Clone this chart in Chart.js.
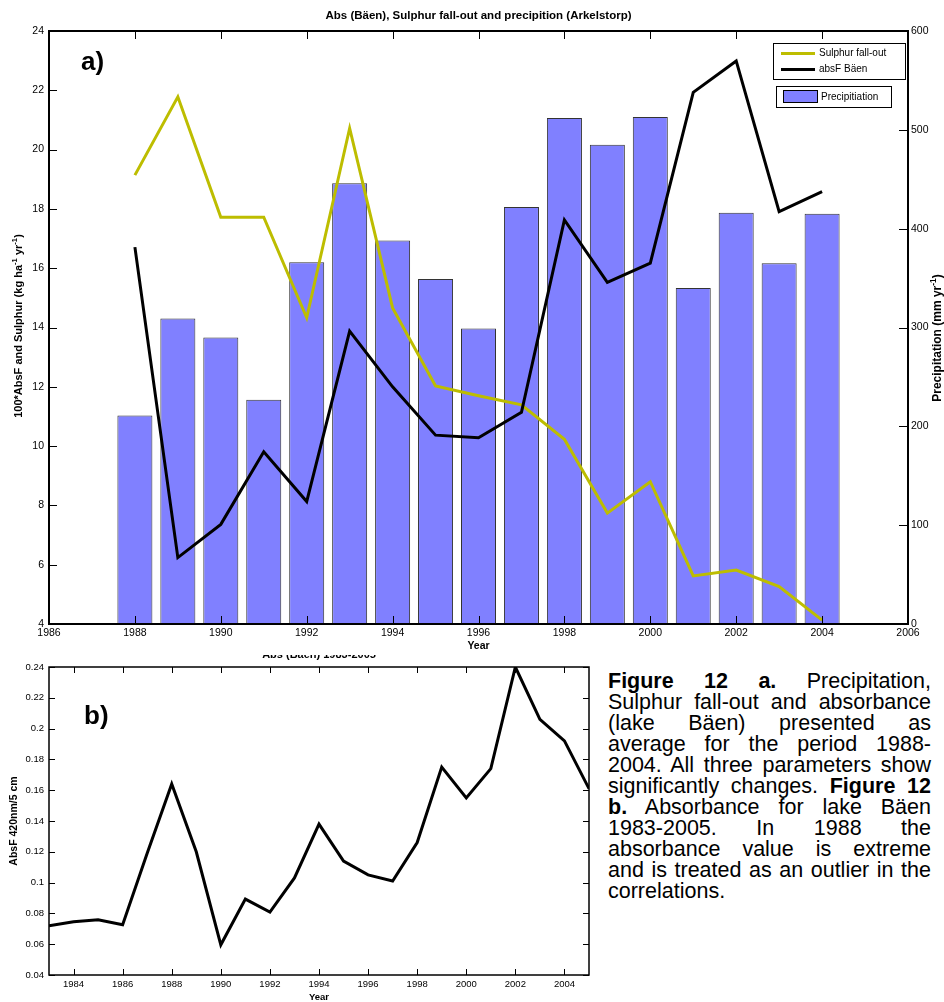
<!DOCTYPE html>
<html>
<head>
<meta charset="utf-8">
<script src="https://cdn.jsdelivr.net/npm/chart.js@4/dist/chart.umd.min.js"></script>
<style>
html,body{margin:0;padding:0;background:#fff;}
body{width:944px;height:1002px;position:relative;overflow:hidden;font-family:"Liberation Sans",Arial,Helvetica,sans-serif;}
#wrapA{position:absolute;left:0;top:0;width:944px;height:655px;z-index:2;background:#fff;}
#wrapB{position:absolute;left:0;top:640px;width:600px;height:362px;z-index:1;background:#fff;}
#caption{position:absolute;left:608px;top:671px;width:323px;font-size:21.5px;line-height:21px;color:#000;z-index:3;}
#caption .l{text-align:justify;text-align-last:justify;white-space:nowrap;}
#caption .last{text-align:left;text-align-last:left;}
</style>
</head>
<body>
<div id="wrapA"><canvas id="chartA" width="944" height="655"></canvas></div>
<div id="wrapB"><canvas id="chartB" width="600" height="362"></canvas></div>
<div id="caption">
<div class="l"><b>Figure 12 a.</b> Precipitation,</div>
<div class="l">Sulphur fall-out and absorbance</div>
<div class="l">(lake Bäen) presented as</div>
<div class="l">average for the period 1988-</div>
<div class="l">2004. All three parameters show</div>
<div class="l">significantly changes. <b>Figure 12</b></div>
<div class="l"><b>b.</b> Absorbance for lake Bäen</div>
<div class="l">1983-2005. In 1988 the</div>
<div class="l">absorbance value is extreme</div>
<div class="l">and is treated as an outlier in the</div>
<div class="l last">correlations.</div>
</div>
<script>
// ---------- DATA (top chart a) ----------
const years = [1988,1989,1990,1991,1992,1993,1994,1995,1996,1997,1998,1999,2000,2001,2002,2003,2004];
const precipitation = [211,309,290,227,366,446,388,349,299,422,512,485,513,340,416,365,415];
const sulphurFallout = [19.14,21.78,17.72,17.72,14.33,20.72,14.66,12.03,11.70,11.39,10.23,7.74,8.80,5.62,5.82,5.26,4.13];
const absFBaen = [16.71,6.24,7.36,9.81,8.13,13.88,12.00,10.37,10.28,11.14,17.63,15.52,16.17,21.93,22.99,17.91,18.58];
const topXTicks = [1986,1988,1990,1992,1994,1996,1998,2000,2002,2004,2006];
const topLeftTicks = [4,6,8,10,12,14,16,18,20,22,24];
const topRightTicks = [0,100,200,300,400,500,600];

// ---------- DATA (bottom chart b) ----------
const absYears = [1983,1984,1985,1986,1987,1988,1989,1990,1991,1992,1993,1994,1995,1996,1997,1998,1999,2000,2001,2002,2003,2004,2005];
const absorbance = [0.072,0.0746,0.0759,0.0726,0.119,0.164,0.120,0.0596,0.0893,0.0809,0.103,0.138,0.114,0.105,0.101,0.126,0.175,0.155,0.174,0.240,0.206,0.192,0.161];
const bottomXTicks = [1984,1986,1988,1990,1992,1994,1996,1998,2000,2002,2004];
const bottomYTicks = [0.04,0.06,0.08,0.10,0.12,0.14,0.16,0.18,0.20,0.22,0.24];

const FF = '"Liberation Sans", Arial, Helvetica, sans-serif';
Chart.defaults.font.family = FF;
Chart.defaults.color = '#000';

const YELLOW = '#BDBD00';
const BLUE = '#8080FF';

function drawRich(ctx, parts, x, y, rot, size, bold) {
  ctx.save();
  ctx.translate(x, y);
  ctx.rotate(rot);
  ctx.textAlign = 'left';
  ctx.textBaseline = 'alphabetic';
  let total = 0;
  parts.forEach(p => {
    const s = p.sup ? size * 0.7 : size;
    ctx.font = (bold ? 'bold ' : '') + s + 'px ' + FF;
    p.w = ctx.measureText(p.t).width;
    total += p.w;
  });
  let cx = -total / 2;
  parts.forEach(p => {
    const s = p.sup ? size * 0.7 : size;
    ctx.font = (bold ? 'bold ' : '') + s + 'px ' + FF;
    ctx.fillStyle = '#000';
    ctx.fillText(p.t, cx, p.sup ? size * 0.35 - size * 0.45 : size * 0.35);
    cx += p.w;
  });
  ctx.restore();
}

function setTicks(arr) {
  return function (scale) { scale.ticks = arr.map(v => ({ value: v })); };
}

const framePluginA = {
  id: 'frameA',
  afterDraw(chart) {
    const ctx = chart.ctx;
    const a = chart.chartArea;
    const sx = chart.scales.x, sy = chart.scales.y, sy2 = chart.scales.y2;
    ctx.save();
    ctx.strokeStyle = '#000';
    ctx.lineWidth = 1;
    ctx.beginPath();
    topXTicks.forEach(v => {
      const px = Math.round(sx.getPixelForValue(v)) + 0.5;
      ctx.moveTo(px, a.bottom); ctx.lineTo(px, a.bottom - 8);
      ctx.moveTo(px, a.top); ctx.lineTo(px, a.top + 8);
    });
    topLeftTicks.forEach(v => {
      const py = Math.round(sy.getPixelForValue(v)) + 0.5;
      ctx.moveTo(a.left, py); ctx.lineTo(a.left + 8, py);
    });
    topRightTicks.forEach(v => {
      const py = Math.round(sy2.getPixelForValue(v)) + 0.5;
      ctx.moveTo(a.right, py); ctx.lineTo(a.right - 9, py);
    });
    ctx.stroke();
    ctx.lineWidth = 2;
    ctx.strokeRect(a.left, a.top, a.right - a.left, a.bottom - a.top);

    ctx.fillStyle = '#000';
    ctx.textAlign = 'center';
    ctx.textBaseline = 'middle';
    ctx.font = 'bold 11.5px ' + FF;
    ctx.fillText('Abs (Bäen), Sulphur fall-out and precipition (Arkelstorp)', (a.left + a.right) / 2, 16);
    ctx.font = 'bold 10.5px ' + FF;
    ctx.fillText('Year', (a.left + a.right) / 2, 646);
    ctx.font = 'bold 26px ' + FF;
    ctx.textAlign = 'left';
    ctx.fillText('a)', 81, 63);

    drawRich(ctx, [
      { t: '100*AbsF and Sulphur (kg ha' }, { t: '-1', sup: true }, { t: ' yr' }, { t: '-1', sup: true }, { t: ')' }
    ], 18, 326, -Math.PI / 2, 11, true);
    drawRich(ctx, [
      { t: 'Precipitation (mm yr' }, { t: '-1', sup: true }, { t: ')' }
    ], 937, 338, -Math.PI / 2, 12, true);

    ctx.lineWidth = 1;
    ctx.fillStyle = '#fff';
    ctx.fillRect(773.5, 43.5, 132, 36);
    ctx.strokeRect(773.5, 43.5, 132, 36);
    ctx.lineWidth = 3;
    ctx.strokeStyle = YELLOW;
    ctx.beginPath(); ctx.moveTo(781, 53.5); ctx.lineTo(815, 53.5); ctx.stroke();
    ctx.strokeStyle = '#000';
    ctx.beginPath(); ctx.moveTo(781, 69.5); ctx.lineTo(815, 69.5); ctx.stroke();
    ctx.fillStyle = '#000';
    ctx.font = '10px ' + FF;
    ctx.textBaseline = 'middle';
    ctx.fillText('Sulphur fall-out', 819, 53);
    ctx.fillText('absF Bäen', 819, 69);
    ctx.lineWidth = 1;
    ctx.fillStyle = '#fff';
    ctx.fillRect(776.5, 86.5, 115, 21);
    ctx.strokeRect(776.5, 86.5, 115, 21);
    ctx.fillStyle = BLUE;
    ctx.fillRect(783.5, 90.5, 34, 12);
    ctx.strokeStyle = '#000';
    ctx.strokeRect(783.5, 90.5, 34, 12);
    ctx.fillStyle = '#000';
    ctx.fillText('Precipitiation', 821, 97);
    ctx.restore();
  }
};

new Chart(document.getElementById('chartA'), {
  type: 'bar',
  data: {
    datasets: [
      {
        type: 'line', label: 'absF Bäen',
        data: years.map((y, i) => ({ x: y, y: absFBaen[i] })),
        yAxisID: 'y', borderColor: '#000', borderWidth: 3, pointRadius: 0, tension: 0, fill: false, order: 1
      },
      {
        type: 'line', label: 'Sulphur fall-out',
        data: years.map((y, i) => ({ x: y, y: sulphurFallout[i] })),
        yAxisID: 'y', borderColor: YELLOW, borderWidth: 3, pointRadius: 0, tension: 0, fill: false, order: 2
      },
      {
        type: 'bar', label: 'Precipitiation',
        data: years.map((y, i) => ({ x: y, y: precipitation[i] })),
        yAxisID: 'y2', backgroundColor: BLUE, borderColor: '#333', borderWidth: 1,
        barPercentage: 0.815, categoryPercentage: 1, order: 3
      }
    ]
  },
  options: {
    responsive: false, animation: false, devicePixelRatio: 1,
    layout: { padding: { top: 31, left: 0, right: 0, bottom: 0 } },
    plugins: { legend: { display: false }, tooltip: { enabled: false }, title: { display: false } },
    scales: {
      x: {
        type: 'linear', min: 1986, max: 2006, offset: false, position: 'bottom',
        grid: { display: false, drawTicks: false }, border: { display: false },
        afterBuildTicks: setTicks(topXTicks),
        ticks: { padding: 3, font: { size: 10.5 }, color: '#000', maxRotation: 0, autoSkip: false, callback: v => String(v) },
        afterFit: s => { s.height = 31; }
      },
      y: {
        type: 'linear', position: 'left', min: 4, max: 24,
        grid: { display: false, drawTicks: false }, border: { display: false },
        afterBuildTicks: setTicks(topLeftTicks),
        ticks: { padding: 5, font: { size: 10.5 }, color: '#000' },
        afterFit: s => { s.width = 49; }
      },
      y2: {
        type: 'linear', position: 'right', min: 0, max: 600,
        grid: { display: false, drawTicks: false }, border: { display: false },
        afterBuildTicks: setTicks(topRightTicks),
        ticks: { padding: 3, font: { size: 10.5 }, color: '#000' },
        afterFit: s => { s.width = 36; }
      }
    }
  },
  plugins: [framePluginA]
});

const framePluginB = {
  id: 'frameB',
  afterDraw(chart) {
    const ctx = chart.ctx;
    const a = chart.chartArea;
    const sx = chart.scales.x, sy = chart.scales.y;
    ctx.save();
    ctx.strokeStyle = '#000';
    ctx.lineWidth = 1;
    ctx.beginPath();
    bottomXTicks.forEach(v => {
      const px = Math.round(sx.getPixelForValue(v)) + 0.5;
      ctx.moveTo(px, a.bottom); ctx.lineTo(px, a.bottom - 6);
      ctx.moveTo(px, a.top); ctx.lineTo(px, a.top + 6);
    });
    bottomYTicks.forEach(v => {
      const py = Math.round(sy.getPixelForValue(v)) + 0.5;
      ctx.moveTo(a.left, py); ctx.lineTo(a.left + 6, py);
      ctx.moveTo(a.right, py); ctx.lineTo(a.right - 6, py);
    });
    ctx.stroke();
    ctx.lineWidth = 1.5;
    ctx.strokeRect(a.left, a.top, a.right - a.left, a.bottom - a.top);

    ctx.fillStyle = '#000';
    ctx.textAlign = 'center';
    ctx.textBaseline = 'alphabetic';
    ctx.font = 'bold 11px ' + FF;
    ctx.fillText('Abs (Bäen) 1983-2005', (a.left + a.right) / 2, 18);
    ctx.textBaseline = 'middle';
    ctx.font = 'bold 9.5px ' + FF;
    ctx.fillText('Year', (a.left + a.right) / 2, 357);
    ctx.font = 'bold 26px ' + FF;
    ctx.textAlign = 'left';
    ctx.fillText('b)', 84, 77);
    drawRich(ctx, [{ t: 'AbsF 420nm/5 cm' }], 13, (a.top + a.bottom) / 2, -Math.PI / 2, 10.5, true);
    ctx.restore();
  }
};

new Chart(document.getElementById('chartB'), {
  type: 'line',
  data: {
    datasets: [{
      label: 'AbsF',
      data: absYears.map((y, i) => ({ x: y, y: absorbance[i] })),
      borderColor: '#000', borderWidth: 3, pointRadius: 0, tension: 0, fill: false
    }]
  },
  options: {
    responsive: false, animation: false, devicePixelRatio: 1,
    layout: { padding: { top: 27, left: 0, right: 11, bottom: 0 } },
    plugins: { legend: { display: false }, tooltip: { enabled: false } },
    scales: {
      x: {
        type: 'linear', min: 1983, max: 2005,
        grid: { display: false, drawTicks: false }, border: { display: false },
        afterBuildTicks: setTicks(bottomXTicks),
        ticks: { padding: 4, font: { size: 9.5 }, color: '#000', maxRotation: 0, autoSkip: false, callback: v => String(v) },
        afterFit: s => { s.height = 27; }
      },
      y: {
        type: 'linear', min: 0.04, max: 0.24,
        grid: { display: false, drawTicks: false }, border: { display: false },
        afterBuildTicks: setTicks(bottomYTicks),
        ticks: { padding: 5, font: { size: 9.5 }, color: '#000', callback: v => String(Number(v.toFixed(2))) },
        afterFit: s => { s.width = 49; }
      }
    }
  },
  plugins: [framePluginB]
});
</script>
</body>
</html>
